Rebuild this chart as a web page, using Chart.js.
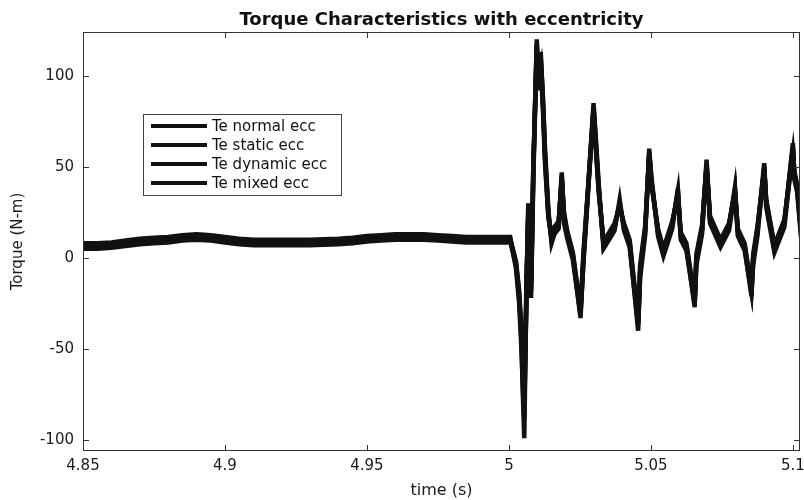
<!DOCTYPE html>
<html>
<head>
<meta charset="utf-8">
<script src="https://cdn.jsdelivr.net/npm/chart.js@4.4.0/dist/chart.umd.min.js"></script>
<style>
  html, body { margin: 0; background: #fff; }
  #wrap { width: 804px; height: 500px; }
</style>
</head>
<body>
<div id="wrap"><canvas id="torqueChart"></canvas></div>
<script>
const chartTitle = 'Torque Characteristics with eccentricity';
const seriesNames = ['Te normal ecc', 'Te static ecc', 'Te dynamic ecc', 'Te mixed ecc'];

// time axis shared by all four traces (s)
const timeS = [
  4.85, 4.855, 4.86, 4.865, 4.87, 4.875, 4.88, 4.885, 4.89, 4.895,
  4.9, 4.905, 4.91, 4.915, 4.92, 4.93, 4.94, 4.945, 4.95, 4.955,
  4.96, 4.965, 4.97, 4.975, 4.98, 4.985, 4.99, 4.995, 5.0,
  5.0005, 5.0012, 5.0025, 5.0036, 5.0044, 5.0050, 5.0054, 5.0058, 5.0062, 5.0068,
  5.0073, 5.0078, 5.0086, 5.0098, 5.0104, 5.0112, 5.012, 5.0127, 5.0139, 5.015,
  5.016, 5.0175, 5.0186, 5.0194, 5.0205, 5.0225, 5.0252, 5.0262, 5.027, 5.0298,
  5.0305, 5.0316, 5.0333, 5.0353, 5.0372, 5.039, 5.0405, 5.0425, 5.0455, 5.0462,
  5.048, 5.0494, 5.0502, 5.0525, 5.0544, 5.0575, 5.0595, 5.0605, 5.0625, 5.0654,
  5.066, 5.068, 5.0696, 5.0708, 5.0745, 5.0775, 5.0796, 5.0806, 5.083, 5.0854,
  5.086, 5.0875, 5.0899, 5.0906, 5.0935, 5.097, 5.1, 5.1005, 5.1015, 5.103
];

const teNormal = [
  5, 5, 5.5, 6.5, 7.5, 8, 8.5, 9.5, 10, 9.5,
  8.5, 7.5, 7, 7, 7, 7, 7.5, 8, 9, 9.5,
  10, 10, 10, 9.5, 9, 8.5, 8.5, 8.5, 8.5,
  9, 4, -4, -22, -45, -80, -99, -55, -16, 26,
  5, -18, 48, 120, 96, 113, 85, 57, 24, 10,
  15, 18, 47, 22, 13, 1, -33, -2, 17, 85,
  66, 39, 7, 12, 17, 30, 17, 8, -40, -8,
  15, 60, 42, 14, 3, 18, 37, 12, 6, -27,
  -2, 15, 54, 21, 8, 17, 39, 14, 6, -21,
  -2, 14, 52, 30, 5, 19, 63, 45, 38, 11
];
const teStatic = [
  8, 8, 8.5, 9.5, 10.5, 11, 11.5, 12.5, 13, 12.5,
  11.5, 10.5, 10, 10, 10, 10, 10.5, 11, 12, 12.5,
  13, 13, 13, 12.5, 12, 11.5, 11.5, 11.5, 11.5,
  10, 6, -2, -18, -40, -58, -62, -45, -10, 22,
  8, -12, 52, 112, 100, 106, 80, 52, 22, 12,
  17, 20, 42, 25, 15, 3, -28, 2, 20, 80,
  62, 36, 9, 14, 19, 28, 19, 10, -34, -4,
  18, 56, 40, 16, 5, 20, 34, 14, 8, -23,
  2, 18, 50, 23, 10, 19, 36, 16, 8, -17,
  2, 17, 48, 32, 7, 21, 58, 48, 40, 13
];
const teDynamic = [
  7, 7, 7.5, 8.5, 9.5, 10, 10.5, 11.5, 12, 11.5,
  10.5, 9.5, 9, 9, 9, 9, 9.5, 10, 11, 11.5,
  12, 12, 12, 11.5, 11, 10.5, 10.5, 10.5, 10.5,
  11, 5, -6, -25, -50, -75, -88, -50, -20, 30,
  3, -22, 45, 116, 92, 110, 88, 60, 26, 8,
  13, 16, 45, 19, 11, -1, -31, -4, 15, 83,
  68, 41, 5, 10, 15, 32, 15, 6, -37, -11,
  13, 58, 44, 12, 1, 16, 38, 10, 4, -25,
  -4, 13, 52, 19, 6, 15, 37, 12, 4, -19,
  -4, 12, 50, 28, 3, 17, 60, 43, 36, 9
];
const teMixed = [
  6, 6, 6.5, 7.5, 8.5, 9, 9.5, 10.5, 11, 10.5,
  9.5, 8.5, 8, 8, 8, 8, 8.5, 9, 10, 10.5,
  11, 11, 11, 10.5, 10, 9.5, 9.5, 9.5, 9.5,
  10, 5, -3, -20, -42, -70, -80, -52, -14, 24,
  6, -15, 50, 118, 98, 109, 83, 55, 23, 11,
  16, 19, 44, 23, 14, 2, -30, 0, 18, 82,
  64, 38, 8, 13, 18, 29, 18, 9, -36, -6,
  16, 57, 41, 15, 4, 19, 35, 13, 7, -24,
  0, 16, 51, 22, 9, 18, 37, 15, 7, -18,
  0, 16, 49, 31, 6, 20, 61, 46, 39, 12
];

const xTicks = [4.85, 4.9, 4.95, 5, 5.05, 5.1];
const yTicks = [-100, -50, 0, 50, 100];

const allSeries = [teNormal, teStatic, teDynamic, teMixed];
const fontFam = '"DejaVu Sans", Verdana, sans-serif';

// MATLAB style box: frame, inward ticks, centred title, legend inside the axes
const matlabBox = {
  id: 'matlabBox',
  afterDraw(chart) {
    const { ctx, chartArea: a, scales: { x, y } } = chart;
    ctx.save();
    ctx.strokeStyle = '#333';
    ctx.lineWidth = 1;
    ctx.strokeRect(a.left + 0.5, a.top + 0.5, a.width - 1, a.height - 1);
    ctx.beginPath();
    xTicks.forEach(t => {
      const px = Math.round(x.getPixelForValue(t)) + 0.5;
      ctx.moveTo(px, a.bottom); ctx.lineTo(px, a.bottom - 6);
      ctx.moveTo(px, a.top); ctx.lineTo(px, a.top + 6);
    });
    yTicks.forEach(v => {
      const py = Math.round(y.getPixelForValue(v)) + 0.5;
      ctx.moveTo(a.left, py); ctx.lineTo(a.left + 6, py);
      ctx.moveTo(a.right, py); ctx.lineTo(a.right - 6, py);
    });
    ctx.stroke();

    ctx.fillStyle = '#111';
    ctx.font = 'bold 18px ' + fontFam;
    ctx.textAlign = 'center';
    ctx.textBaseline = 'alphabetic';
    ctx.fillText(chartTitle, (a.left + a.right) / 2, 25);

    // legend
    const bx = a.left + 60, by = a.top + 82, bw = 198, bh = 81;
    ctx.fillStyle = '#fff';
    ctx.fillRect(bx, by, bw, bh);
    ctx.strokeStyle = '#444';
    ctx.strokeRect(bx + 0.5, by + 0.5, bw, bh);
    ctx.font = '15px ' + fontFam;
    ctx.textAlign = 'left';
    ctx.textBaseline = 'middle';
    chart.data.datasets.forEach((ds, i) => {
      const ly = by + 12 + i * 19;
      ctx.strokeStyle = ds.borderColor;
      ctx.lineWidth = 4;
      ctx.beginPath();
      ctx.moveTo(bx + 8, ly); ctx.lineTo(bx + 64, ly);
      ctx.stroke();
      ctx.fillStyle = '#111';
      ctx.fillText(ds.label, bx + 69, ly + 1);
    });
    ctx.restore();
  }
};

new Chart(document.getElementById('torqueChart'), {
  type: 'line',
  data: {
    datasets: seriesNames.map((name, i) => ({
      label: name,
      data: timeS.map((t, k) => ({ x: t, y: allSeries[i][k] })),
      borderColor: '#111',
      borderWidth: 4.5,
      pointRadius: 0,
      tension: 0,
      fill: false
    }))
  },
  options: {
    responsive: true,
    maintainAspectRatio: false,
    animation: false,
    layout: { padding: { top: 32, right: 4, left: 0, bottom: 0 } },
    plugins: {
      legend: { display: false },
      title: { display: false },
      tooltip: { enabled: false }
    },
    scales: {
      x: {
        type: 'linear',
        min: 4.85,
        max: 5.1025,
        afterBuildTicks: s => { s.ticks = xTicks.map(v => ({ value: v })); },
        afterFit: s => { s.height = 49; s.paddingLeft = 0; s.paddingRight = 0; },
        grid: { display: false, drawTicks: false },
        border: { display: false },
        ticks: {
          padding: 6,
          color: '#1a1a1a',
          font: { size: 15, family: fontFam },
          callback: v => String(Math.round(v * 100) / 100)
        },
        title: {
          display: true,
          text: 'time (s)',
          color: '#1a1a1a',
          font: { size: 16, family: fontFam },
          padding: { top: 0, bottom: 0 }
        }
      },
      y: {
        min: -106,
        max: 124,
        afterBuildTicks: s => { s.ticks = yTicks.map(v => ({ value: v })); },
        afterFit: s => { s.width = 83; s.paddingTop = 0; s.paddingBottom = 0; },
        grid: { display: false, drawTicks: false },
        border: { display: false },
        ticks: {
          padding: 9,
          color: '#1a1a1a',
          font: { size: 15, family: fontFam }
        },
        title: {
          display: true,
          text: 'Torque (N-m)',
          color: '#1a1a1a',
          font: { size: 15, family: fontFam },
          padding: { top: 9, bottom: 0 }
        }
      }
    }
  },
  plugins: [matlabBox]
});
</script>
</body>
</html>
